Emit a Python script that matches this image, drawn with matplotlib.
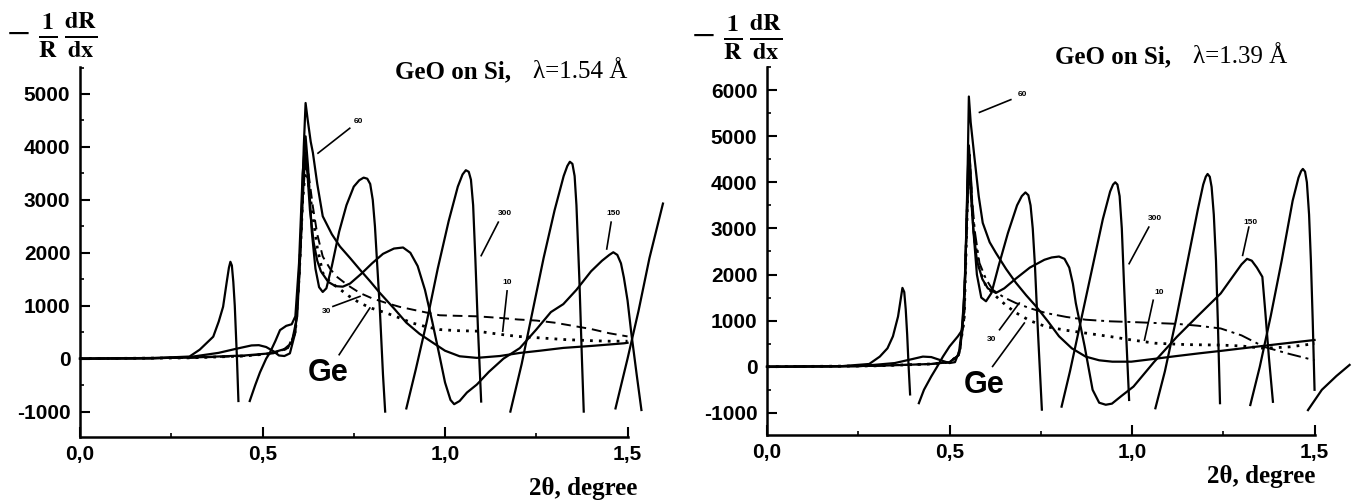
import numpy as np
import matplotlib.pyplot as plt

nan = np.nan

# ---------- left panel, lambda = 1.54 A ----------
L_X_300 = [0.0, 0.2, 0.3, 0.328, 0.365, 0.38, 0.392, 0.402, 0.408, 0.412, 0.416, 0.42, 0.424, 0.43, 0.434, nan,
           0.465, 0.48, 0.493, 0.51, 0.52, 0.535, 0.548, 0.565, 0.58, 0.59, 0.60, 0.61, 0.618, 0.625, 0.635,
           0.645, 0.655, 0.665, 0.675, 0.69, 0.71, 0.73, 0.75, 0.765, 0.777, 0.787, 0.795, 0.802, 0.808, 0.814,
           0.821, 0.83, 0.836, nan,
           0.894, 0.92, 0.95, 0.98, 1.01, 1.035, 1.048, 1.057, 1.065, 1.071, 1.077, 1.083, 1.09, 1.099, nan,
           1.179, 1.21, 1.24, 1.27, 1.30, 1.325, 1.335, 1.342, 1.349, 1.355, 1.36, 1.368, 1.375, 1.38, nan,
           1.467, 1.5, 1.53, 1.56, 1.597]
L_Y_300 = [0, 10, 40, 170, 415, 700, 980, 1450, 1720, 1830, 1760, 1450, 1000, 0, -800, nan,
           -800, -500, -260, 0, 110, 330, 540, 620, 650, 800, 1800, 3500, 4200, 3600, 2400,
           1700, 1350, 1260, 1330, 1750, 2400, 2900, 3250, 3370, 3420, 3400, 3300, 3000, 2500, 1800,
           990, -300, -1000, nan,
           -940, -200, 700, 1700, 2600, 3250, 3480, 3560, 3530, 3380, 2900, 1900, 600, -810, nan,
           -1000, -100, 900, 1900, 2800, 3450, 3640, 3720, 3680, 3450, 2900, 1500, 0, -1000, nan,
           -940, 0, 900, 1900, 2930]

L_X_150 = [0.0, 0.2, 0.3, 0.38, 0.43, 0.47, 0.49, 0.51, 0.53, 0.545, 0.56, 0.575, 0.59, 0.60, 0.61, 0.617,
           0.623, 0.63, 0.64, 0.65, 0.66, 0.68, 0.70, 0.72, 0.74, 0.77, 0.80, 0.83, 0.86, 0.885, 0.905, 0.925,
           0.945, 0.965, 0.985, 1.0, 1.015, 1.025, 1.04, 1.06, 1.087, 1.12, 1.16, 1.205, 1.25, 1.29, 1.324,
           1.36, 1.40, 1.43, 1.45, 1.461, 1.472, 1.482, 1.49, 1.50, 1.51, 1.525, 1.538]
L_Y_150 = [0, 5, 30, 110, 190, 250, 255, 220, 140, 60, 50, 100, 500, 1500, 3000, 3900,
           3500, 2800, 2200, 1850, 1650, 1450, 1370, 1360, 1420, 1600, 1800, 1980, 2080, 2100, 2000, 1750,
           1300, 700, 50, -450, -780, -860, -800, -640, -490, -250, 0, 200, 550, 880, 1030,
           1300, 1650, 1850, 1960, 2010, 1960, 1800, 1530, 1100, 500, -300, -970]

L_X_60 = [0.0, 0.3, 0.45, 0.52, 0.56, 0.58, 0.595, 0.605, 0.613, 0.618, 0.624, 0.632, 0.638, 0.65, 0.665,
          0.69, 0.712, 0.74, 0.767, 0.795, 0.821, 0.86, 0.894, 0.93, 0.967, 1.0, 1.04, 1.087, 1.15, 1.205,
          1.26, 1.324, 1.40, 1.49, 1.5]
L_Y_60 = [0, 20, 60, 100, 180, 300, 800, 2200, 4000, 4830, 4500, 4100, 3890, 3300, 2690,
          2350, 2120, 1900, 1680, 1460, 1245, 950, 680, 470, 300, 150, 45, 15, 50, 108,
          150, 203, 240, 290, 300]

L_X_30 = [0.0, 0.3, 0.45, 0.53, 0.57, 0.59, 0.60, 0.61, 0.619, 0.626, 0.638, 0.65, 0.665, 0.685, 0.703,
          0.735, 0.767, 0.80, 0.84, 0.875, 0.912, 0.95, 0.985, 1.03, 1.087, 1.15, 1.2, 1.25, 1.3, 1.35,
          1.4, 1.45, 1.5]
L_Y_30 = [0, 15, 50, 100, 200, 500, 1500, 3000, 3820, 3500, 2870, 2350, 1930, 1700, 1550,
          1380, 1240, 1140, 1050, 980, 925, 870, 820, 810, 800, 770, 740, 720, 680, 620,
          560, 480, 420]

L_X_10 = [0.0, 0.3, 0.45, 0.53, 0.57, 0.59, 0.60, 0.61, 0.619, 0.626, 0.638, 0.65, 0.665, 0.685, 0.703,
          0.735, 0.767, 0.80, 0.84, 0.875, 0.912, 0.95, 0.985, 1.03, 1.087, 1.15, 1.2, 1.265, 1.33, 1.4,
          1.45, 1.5]
L_Y_10 = [0, 15, 50, 100, 200, 500, 1500, 3000, 3700, 3300, 2690, 2100, 1620, 1450, 1360,
          1190, 1050, 950, 860, 770, 670, 600, 550, 530, 520, 460, 420, 390, 360, 340,
          330, 330]

# ---------- right panel, lambda = 1.39 A ----------
R_X_300 = [0.0, 0.2, 0.28, 0.309, 0.33, 0.345, 0.359, 0.366, 0.371, 0.376, 0.38, 0.384, 0.388, 0.392, nan,
           0.416, 0.43, 0.45, 0.466, 0.482, 0.50, 0.523, 0.535, 0.543, 0.549, 0.553, 0.558, 0.565, 0.575,
           0.587, 0.60, 0.615, 0.635, 0.66, 0.685, 0.698, 0.708, 0.716, 0.722, 0.728, 0.734, 0.742, 0.753, nan,
           0.807, 0.83, 0.86, 0.89, 0.92, 0.94, 0.948, 0.954, 0.96, 0.966, 0.972, 0.978, 0.985, 0.992, nan,
           1.064, 1.09, 1.12, 1.15, 1.18, 1.195, 1.202, 1.207, 1.213, 1.218, 1.224, 1.23, 1.235, 1.241, nan,
           1.324, 1.35, 1.38, 1.41, 1.44, 1.456, 1.463, 1.468, 1.474, 1.479, 1.485, 1.49, 1.495, 1.50]
R_Y_300 = [0, 10, 60, 220, 400, 660, 1090, 1450, 1710, 1620, 1250, 700, 0, -600, nan,
           -790, -500, -210, 0, 220, 440, 660, 800, 2000, 4000, 4800, 4200, 3000, 2000,
           1500, 1420, 1600, 2200, 2900, 3500, 3700, 3780, 3720, 3500, 3000, 2200, 800, -930, nan,
           -865, -100, 1000, 2100, 3200, 3800, 3950, 4000, 3950, 3700, 3000, 1800, 500, -720, nan,
           -900, -100, 1000, 2200, 3400, 3950, 4120, 4180, 4120, 3900, 3300, 2300, 1000, -790, nan,
           -830, 0, 1100, 2300, 3600, 4100, 4240, 4290, 4230, 4000, 3300, 2300, 1000, -500]

R_X_150 = [0.0, 0.25, 0.35, 0.40, 0.427, 0.45, 0.48, 0.50, 0.515, 0.53, 0.54, 0.547, 0.553, 0.558, 0.565,
           0.575, 0.59, 0.605, 0.627, 0.65, 0.68, 0.72, 0.76, 0.78, 0.80, 0.815, 0.828, 0.838, 0.846, 0.87,
           0.892, 0.91, 0.928, 0.945, 0.97, 1.004, 1.06, 1.123, 1.18, 1.243, 1.28, 1.3, 1.315, 1.328, 1.342,
           1.357, 1.365, 1.375, 1.386, nan, 1.482, 1.52, 1.56, 1.596]
R_Y_150 = [0, 10, 80, 170, 220, 210, 130, 80, 100, 400, 1500, 3000, 4500, 3800, 3000,
           2300, 1900, 1700, 1600, 1700, 1900, 2150, 2320, 2370, 2390, 2340, 2150, 1800, 1380, 450,
           -500, -780, -824, -800, -640, -430, 100, 650, 1100, 1590, 2000, 2220, 2340, 2300, 2150,
           1950, 1200, 200, -760, nan, -940, -500, -200, 40]

R_X_60 = [0.0, 0.3, 0.45, 0.5, 0.525, 0.54, 0.548, 0.553, 0.558, 0.568, 0.58, 0.591, 0.61, 0.627, 0.655,
          0.682, 0.71, 0.737, 0.77, 0.80, 0.835, 0.873, 0.91, 0.946, 0.998, 1.06, 1.12, 1.183, 1.25, 1.303,
          1.4, 1.5]
R_Y_60 = [0, 20, 60, 100, 250, 1200, 3500, 5860, 5300, 4560, 3700, 3120, 2700, 2470, 2120,
          1820, 1550, 1310, 980, 660, 400, 220, 140, 110, 110, 170, 230, 290, 350, 400,
          490, 580]

R_X_30 = [0.0, 0.3, 0.45, 0.5, 0.525, 0.54, 0.55, 0.555, 0.562, 0.57, 0.582, 0.60, 0.618, 0.65, 0.682,
          0.72, 0.764, 0.82, 0.873, 0.94, 0.998, 1.06, 1.123, 1.18, 1.243, 1.3, 1.362, 1.43, 1.5]
R_Y_30 = [0, 20, 60, 100, 250, 1000, 4000, 4600, 3600, 2900, 2250, 1900, 1670, 1500, 1380,
          1270, 1165, 1080, 1020, 985, 970, 950, 930, 890, 830, 680, 430, 280, 140]

R_X_10 = [0.0, 0.3, 0.45, 0.5, 0.525, 0.54, 0.55, 0.555, 0.562, 0.57, 0.582, 0.60, 0.627, 0.655, 0.682,
          0.72, 0.764, 0.82, 0.873, 0.944, 1.0, 1.064, 1.15, 1.243, 1.3, 1.362, 1.43, 1.5]
R_Y_10 = [0, 20, 60, 100, 250, 1000, 3800, 4400, 3400, 2700, 2100, 1750, 1530, 1330, 1170,
          1000, 870, 790, 730, 650, 580, 510, 480, 470, 450, 400, 430, 500]

X_TICKS = [0.0, 0.5, 1.0, 1.5]
X_TICKLABELS = ["0,0", "0,5", "1,0", "1,5"]
L_YTICKS = [-1000, 0, 1000, 2000, 3000, 4000, 5000]
R_YTICKS = [-1000, 0, 1000, 2000, 3000, 4000, 5000, 6000]

# curve label: text, text pos, leader start, leader end
L_NOTES = [("60", (0.762, 4480), (0.739, 4353), (0.652, 3882)),
           ("300", (1.164, 2740), (1.146, 2579), (1.099, 1946)),
           ("150", (1.461, 2740), (1.455, 2579), (1.443, 2072)),
           ("10", (1.17, 1440), (1.17, 1280), (1.158, 520)),
           ("30", (0.675, 890), (0.693, 987), (0.767, 1176))]
R_NOTES = [("60", (0.70, 5900), (0.668, 5792), (0.582, 5516)),
           ("300", (1.064, 3208), (1.046, 3028), (0.992, 2235)),
           ("150", (1.324, 3136), (1.32, 3028), (1.303, 2415)),
           ("10", (1.073, 1600), (1.058, 1442), (1.034, 577)),
           ("30", (0.614, 586), (0.637, 803), (0.691, 1382))]
L_GE = ((0.68, -280), (0.71, 75), (0.794, 957))
R_GE = ((0.596, -390), (0.618, 7), (0.705, 948))

W, H = 1359, 504
fig = plt.figure(figsize=(W / 100, H / 100), dpi=100)
plt.rcParams['mathtext.fontset'] = 'stix'

tick_font = dict(family='Liberation Sans', weight='bold', size=15)
serif = 'Liberation Serif'


def panel(rect, ylim, yticks, curves, dash30, notes, ge):
    ax = fig.add_axes(rect)
    for xs, ys in curves:
        ax.plot(xs, ys, color='black', lw=1.6, clip_on=False)
    x30, y30 = dash30[0]
    ax.plot(x30, y30, color='black', lw=1.4, ls=dash30[2])
    x10, y10 = dash30[1]
    ax.plot(x10, y10, color='black', lw=2.0, ls=(0, (1, 2.2)))
    ax.set_xlim(0, 1.63)
    ax.set_ylim(*ylim)
    for s in ['top', 'right']:
        ax.spines[s].set_visible(False)
    ax.spines['bottom'].set_bounds(0, 1.5)
    for s in ['left', 'bottom']:
        ax.spines[s].set_linewidth(1.8)
    ax.set_xticks(X_TICKS)
    ax.set_xticklabels(X_TICKLABELS, fontdict=tick_font)
    ax.set_xticks([0.25, 0.75, 1.25], minor=True)
    ax.set_yticks(yticks)
    ax.set_yticklabels([str(v) for v in yticks], fontdict=tick_font)
    ax.set_yticks([v + 500 for v in yticks[:-1]] + [yticks[-1] + 500], minor=True)
    ax.tick_params(which='major', direction='in', length=7, width=1.5, pad=7)
    ax.tick_params(which='minor', direction='in', length=3, width=1.2)
    ax.tick_params(axis='x', pad=6)
    for txt, tpos, a, b in notes:
        ax.text(*tpos, txt, fontsize=6, fontweight='bold', ha='center', va='center',
                family='Liberation Sans')
        ax.plot([a[0], b[0]], [a[1], b[1]], color='black', lw=1.2)
    ax.text(*ge[0], "Ge", fontsize=22, fontweight='bold', ha='center', va='center',
            family='Liberation Sans')
    ax.plot([ge[1][0], ge[2][0]], [ge[1][1], ge[2][1]], color='black', lw=1.2)
    return ax


axL = panel([80 / W, 1 - 437 / H, 595 / W, 370 / H], (-1480, 5510), L_YTICKS,
            [(L_X_300, L_Y_300), (L_X_150, L_Y_150), (L_X_60, L_Y_60)],
            [(L_X_30, L_Y_30), (L_X_10, L_Y_10), (0, (5, 3))], L_NOTES, L_GE)
axR = panel([767 / W, 1 - 435 / H, 595 / W, 368 / H], (-1480, 6500), R_YTICKS,
            [(R_X_300, R_Y_300), (R_X_150, R_Y_150), (R_X_60, R_Y_60)],
            [(R_X_30, R_Y_30), (R_X_10, R_Y_10), (0, (7, 2.5, 1.5, 2.5))], R_NOTES, R_GE)

ylab = r'$-\ \frac{\mathbf{1}}{\mathbf{R}}\,\frac{\mathbf{dR}}{\mathbf{dx}}$'
fig.text(6 / W, 1 - 35 / H, ylab, fontsize=25, ha='left', va='center')
fig.text(691 / W, 1 - 37 / H, ylab, fontsize=25, ha='left', va='center')

fig.text(395 / W, 1 - 72 / H, "GeO on Si,", family=serif, weight='bold', fontsize=18,
         ha='left', va='center')
fig.text(627 / W, 1 - 72 / H, "λ=1.54 Å", family=serif, fontsize=18, ha='right', va='center')
fig.text(1055 / W, 1 - 57 / H, "GeO on Si,", family=serif, weight='bold', fontsize=18,
         ha='left', va='center')
fig.text(1287 / W, 1 - 57 / H, "λ=1.39 Å", family=serif, fontsize=18, ha='right', va='center')

fig.text(637 / W, 1 - 488 / H, "2θ, degree", family=serif, weight='bold', fontsize=18,
         ha='right', va='center')
fig.text(1315 / W, 1 - 477 / H, "2θ, degree", family=serif, weight='bold', fontsize=18,
         ha='right', va='center')

plt.savefig("out.png", dpi=100)
